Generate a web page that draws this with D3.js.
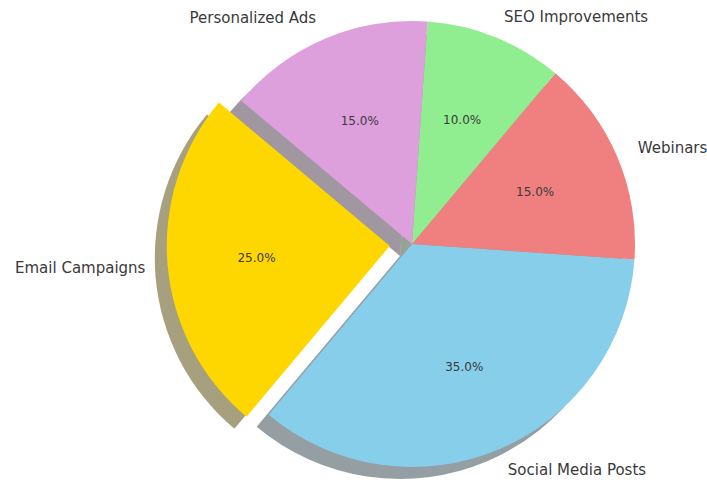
<!DOCTYPE html>
<html>
<head>
<meta charset="utf-8">
<script src="https://cdn.jsdelivr.net/npm/d3@7"></script>
<style>
  body { margin: 0; background: #fff; }
  svg { display: block; }
  text { font-family: "DejaVu Sans", sans-serif; fill: #3a3a3a; }
</style>
</head>
<body>
<svg id="chart" width="707" height="484"></svg>
<script>
// slice data, in matplotlib order (counterclockwise from the start angle)
var categories = ["Email Campaigns", "Social Media Posts", "Webinars", "SEO Improvements", "Personalized Ads"];
var shares     = [25, 35, 15, 10, 15];
var colors     = ["#ffd700", "#87ceeb", "#f08080", "#90ee90", "#dda0dd"];
var exploded   = "Email Campaigns";

var width = 707, height = 484;
var cx = 412, cy = 244, radius = 223;
var startDeg = 140;          // matplotlib startangle
var explodeFrac = 0.1;
var shadowOff = 12;          // shadow shift, px (left / down)
var rad = Math.PI / 180;

var svg = d3.select("#chart");
var g = svg.append("g").attr("transform", "translate(" + cx + "," + cy + ")");

// d3 angles run clockwise from 12 o'clock, so go the negative way to mimic matplotlib
var pie = d3.pie().sort(null)
  .startAngle((90 - startDeg) * rad)
  .endAngle((90 - startDeg - 360) * rad);

var arc = d3.arc().innerRadius(0).outerRadius(radius);

var slices = pie(shares).map(function(d, i) {
  var mid = (d.startAngle + d.endAngle) / 2;
  var ex = categories[i] === exploded ? explodeFrac * radius : 0;
  return {
    arc: d, i: i, mid: mid,
    dx: Math.sin(mid) * ex,
    dy: -Math.cos(mid) * ex
  };
});

// shadows under everything
g.selectAll("path.shadow").data(slices).enter().append("path")
  .attr("class", "shadow")
  .attr("d", function(s) { return arc(s.arc); })
  .attr("transform", function(s) { return "translate(" + (s.dx - shadowOff) + "," + (s.dy + shadowOff) + ")"; })
  .style("fill", function(s) {
    var c = d3.rgb(colors[s.i]);
    return d3.rgb(c.r * 0.3, c.g * 0.3, c.b * 0.3);
  })
  .style("opacity", 0.5);

g.selectAll("path.wedge").data(slices).enter().append("path")
  .attr("class", "wedge")
  .attr("d", function(s) { return arc(s.arc); })
  .attr("transform", function(s) { return "translate(" + s.dx + "," + s.dy + ")"; })
  .style("fill", function(s) { return colors[s.i]; });

// category labels at 1.1 r
g.selectAll("text.label").data(slices).enter().append("text")
  .attr("class", "label")
  .attr("x", function(s) { return s.dx + Math.sin(s.mid) * radius * 1.1; })
  .attr("y", function(s) { return s.dy - Math.cos(s.mid) * radius * 1.1; })
  .attr("dy", "0.35em")
  .attr("text-anchor", function(s) { return Math.sin(s.mid) > 0 ? "start" : "end"; })
  .style("font-size", "15px")
  .text(function(s) { return categories[s.i]; });

// percentages at 0.6 r
var total = d3.sum(shares);
g.selectAll("text.pct").data(slices).enter().append("text")
  .attr("class", "pct")
  .attr("x", function(s) { return s.dx + Math.sin(s.mid) * radius * 0.6; })
  .attr("y", function(s) { return s.dy - Math.cos(s.mid) * radius * 0.6; })
  .attr("dy", "0.35em")
  .attr("text-anchor", "middle")
  .style("font-size", "12px")
  .text(function(s) { return (shares[s.i] / total * 100).toFixed(1) + "%"; });
</script>
</body>
</html>
